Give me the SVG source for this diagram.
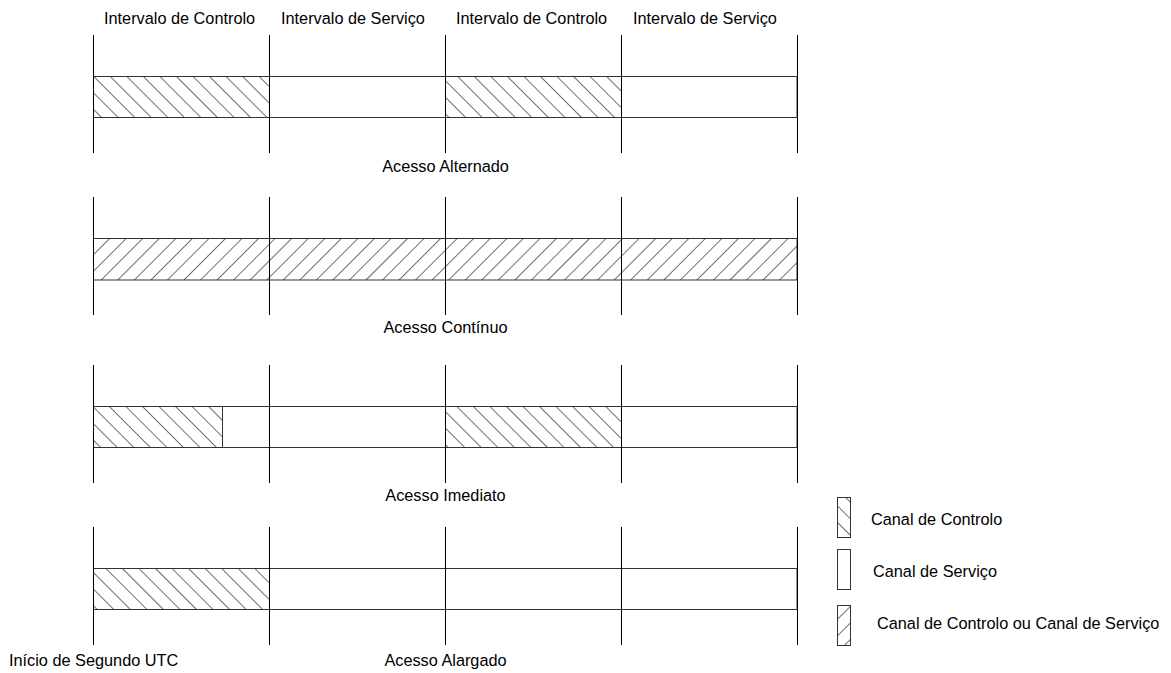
<svg xmlns="http://www.w3.org/2000/svg" width="1171" height="673" viewBox="0 0 1171 673">
  <defs>
    <!-- "\" hatch: control channel -->
    <pattern id="hatchBack" patternUnits="userSpaceOnUse" width="11.7" height="11.7" patternTransform="rotate(-45)">
      <line x1="0" y1="0" x2="0" y2="11.7" stroke="#222" stroke-width="1.3"/>
    </pattern>
    <!-- "/" hatch: control or service channel -->
    <pattern id="hatchFwd" patternUnits="userSpaceOnUse" width="11.7" height="11.7" patternTransform="rotate(45)">
      <line x1="0" y1="0" x2="0" y2="11.7" stroke="#222" stroke-width="1.3"/>
    </pattern>
    <style>
      .lbl { font-family: "Liberation Sans", Arial, sans-serif; font-size: 16.3px; fill: #000; }
      .mid { text-anchor: middle; }
      .tick { stroke: #000; stroke-width: 1; }
      .band { fill: #fff; stroke: #333; stroke-width: 1; }
      .ctl { fill: url(#hatchBack); stroke: none; }
      .any { fill: url(#hatchFwd); stroke: none; }
      .key { stroke: #333; stroke-width: 1; }
    </style>
  </defs>

  <!-- interval headings -->
  <g id="headings">
    <text class="lbl" x="104" y="24">Intervalo de Controlo</text>
    <text class="lbl" x="281" y="24">Intervalo de Serviço</text>
    <text class="lbl" x="456" y="24">Intervalo de Controlo</text>
    <text class="lbl" x="633" y="24">Intervalo de Serviço</text>
  </g>

  <!-- Alternating access -->
  <g id="row-alternado">
    <rect class="band" x="93.5" y="76.5" width="703.5" height="41"/>
    <rect class="ctl" x="93.5" y="77" width="175.5" height="40"/>
    <rect class="ctl" x="445.5" y="77" width="175.5" height="40"/>
    <line class="tick" x1="93.5" y1="35" x2="93.5" y2="153"/>
    <line class="tick" x1="269.5" y1="35" x2="269.5" y2="153"/>
    <line class="tick" x1="445.5" y1="35" x2="445.5" y2="153"/>
    <line class="tick" x1="621.5" y1="35" x2="621.5" y2="153"/>
    <line class="tick" x1="797.5" y1="35" x2="797.5" y2="153" stroke="#555"/>
    <text class="lbl mid" x="445.5" y="172">Acesso Alternado</text>
  </g>

  <!-- Continuous access -->
  <g id="row-continuo">
    <rect class="band" x="93.5" y="238.5" width="703.5" height="41.5"/>
    <rect class="any" x="93.5" y="239" width="703.5" height="41"/>
    <line class="tick" x1="93.5" y1="197" x2="93.5" y2="315"/>
    <line class="tick" x1="269.5" y1="197" x2="269.5" y2="315"/>
    <line class="tick" x1="445.5" y1="197" x2="445.5" y2="315"/>
    <line class="tick" x1="621.5" y1="197" x2="621.5" y2="315"/>
    <line class="tick" x1="797.5" y1="197" x2="797.5" y2="315"/>
    <text class="lbl mid" x="445.5" y="333">Acesso Contínuo</text>
  </g>

  <!-- Immediate access -->
  <g id="row-imediato">
    <rect class="band" x="93.5" y="406.5" width="703.5" height="41"/>
    <rect class="ctl" x="93.5" y="407" width="129" height="40"/>
    <line class="key" x1="222.5" y1="406.5" x2="222.5" y2="447.5"/>
    <rect class="ctl" x="445.5" y="407" width="175.5" height="40"/>
    <line class="tick" x1="93.5" y1="365" x2="93.5" y2="483"/>
    <line class="tick" x1="269.5" y1="365" x2="269.5" y2="483"/>
    <line class="tick" x1="445.5" y1="365" x2="445.5" y2="483"/>
    <line class="tick" x1="621.5" y1="365" x2="621.5" y2="483"/>
    <line class="tick" x1="797.5" y1="365" x2="797.5" y2="483"/>
    <text class="lbl mid" x="445.5" y="501">Acesso Imediato</text>
  </g>

  <!-- Extended access -->
  <g id="row-alargado">
    <rect class="band" x="93.5" y="568.5" width="703.5" height="41"/>
    <rect class="ctl" x="93.5" y="569" width="175.5" height="40"/>
    <line class="tick" x1="93.5" y1="527" x2="93.5" y2="645"/>
    <line class="tick" x1="269.5" y1="527" x2="269.5" y2="645"/>
    <line class="tick" x1="445.5" y1="527" x2="445.5" y2="645"/>
    <line class="tick" x1="621.5" y1="527" x2="621.5" y2="645"/>
    <line class="tick" x1="797.5" y1="527" x2="797.5" y2="645"/>
    <text class="lbl mid" x="445.5" y="666">Acesso Alargado</text>
  </g>

  <g id="utc-start">
    <text class="lbl" x="9" y="666">Início de Segundo UTC</text>
  </g>

  <!-- key -->
  <g id="legend">
    <rect x="837.5" y="497.5" width="13" height="40" fill="url(#hatchBack)" class="key"/>
    <text class="lbl" x="871" y="525">Canal de Controlo</text>
    <rect x="837.5" y="549.5" width="13" height="40" fill="#fff" class="key"/>
    <text class="lbl" x="873" y="577">Canal de Serviço</text>
    <rect x="837.5" y="605.5" width="13" height="40" fill="url(#hatchFwd)" class="key"/>
    <text class="lbl" x="877" y="629">Canal de Controlo ou Canal de Serviço</text>
  </g>
</svg>
